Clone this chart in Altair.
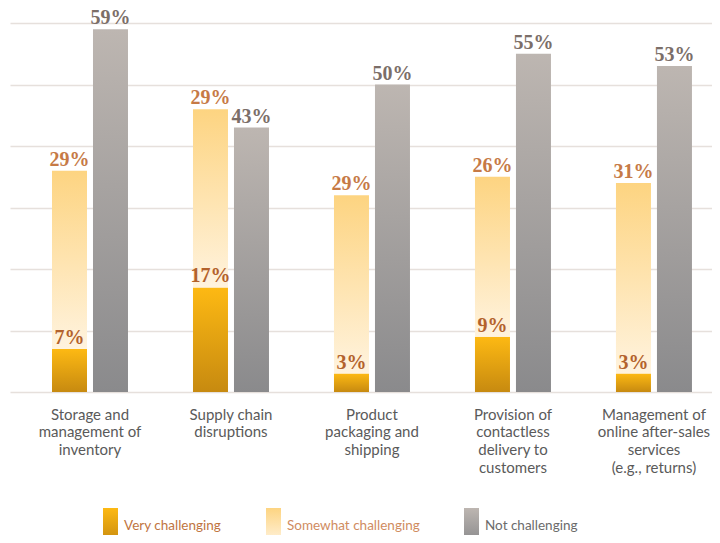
import altair as alt
import pandas as pd

categories = [
    "Storage and|management of|inventory",
    "Supply chain|disruptions",
    "Product|packaging and|shipping",
    "Provision of|contactless|delivery to|customers",
    "Management of|online after-sales|services|(e.g., returns)",
]
series = ["Very challenging", "Somewhat challenging", "Not challenging"]
very = [7, 17, 3, 9, 3]
somewhat = [29, 29, 29, 26, 31]
not_challenging = [59, 43, 50, 55, 53]
grid_values = [0, 10, 20, 30, 40, 50, 60]

rows = []
for i, cat in enumerate(categories):
    rows.append(dict(category=cat, series=series[0], group="challenging",
                     start=0, end=very[i], label=f"{very[i]}%"))
    rows.append(dict(category=cat, series=series[1], group="challenging",
                     start=very[i], end=very[i] + somewhat[i], label=f"{somewhat[i]}%"))
    rows.append(dict(category=cat, series=series[2], group="not",
                     start=0, end=not_challenging[i], label=f"{not_challenging[i]}%"))
df = pd.DataFrame(rows)


def grad(top, bottom):
    return ("{gradient: 'linear', x1: 0, y1: 0, x2: 0, y2: 1, stops: ["
            f"{{offset: 0, color: '{top}'}}, {{offset: 1, color: '{bottom}'}}]}}")


bar_range = [
    {"expr": grad("#fdb913", "#c78a10")},
    {"expr": grad("#fdd481", "#fff3de")},
    {"expr": grad("#bdb6b1", "#8a8a8c")},
]
label_colors = ["#b3622c", "#c67a46", "#7b6e68"]

x_enc = alt.X(
    "category:N",
    sort=categories,
    scale=alt.Scale(paddingInner=0.461, paddingOuter=0.22, align=0.677),
    axis=alt.Axis(
        title=None,
        labelExpr="split(datum.label, '|')",
        labelAngle=0,
        labelFont="Lato",
        labelFontSize=15,
        labelColor="#5a5a5a",
        labelLineHeight=17.7,
        labelPadding=15,
        labelLimit=300,
        ticks=False,
        domain=False,
        grid=False,
    ),
)
xoff_enc = alt.XOffset(
    "group:N", sort=["challenging", "not"],
    scale=alt.Scale(paddingInner=0.146, paddingOuter=0),
)
y_scale = alt.Scale(domain=[0, 61.8], nice=False, zero=True)

bars = alt.Chart(df).mark_bar().encode(
    x=x_enc,
    xOffset=xoff_enc,
    y=alt.Y(
        "start:Q",
        scale=y_scale,
        axis=alt.Axis(
            title=None, values=grid_values, labels=False, ticks=False,
            domain=False, grid=True, gridColor="#e6e0dc", gridWidth=1.5,
        ),
    ),
    y2="end:Q",
    color=alt.Color(
        "series:N",
        scale=alt.Scale(domain=series, range=bar_range),
        legend=alt.Legend(
            title=None,
            orient="none",
            legendX=79,
            legendY=496,
            direction="horizontal",
            symbolType="M-0.2,-1L0.657,-1L0.657,1L-0.2,1Z",
            symbolSize=1225,
            symbolStrokeWidth=0,
            symbolOpacity=1,
            symbolOffset=0,
            labelOffset=0,
            labelFont="Lato",
            labelFontSize=13.5,
            labelLimit=300,
            labelColor={"expr": "datum.label == 'Not challenging' ? '#6b6b6b' : (datum.label == 'Very challenging' ? '#c0743f' : '#d08c5f')"},
            columnPadding=30,
            padding=0,
        ),
    ),
)

labels = alt.Chart(df).mark_text(
    font="Liberation Serif", fontWeight="bold", fontSize=20,
    baseline="alphabetic", dy=-5,
).encode(
    x=x_enc,
    xOffset=xoff_enc,
    y=alt.Y("end:Q", scale=y_scale),
    text="label:N",
    fill=alt.Fill("series:N", scale=alt.Scale(domain=series, range=label_colors), legend=None),
)

chart = alt.layer(bars, labels).properties(
    width=702,
    height=380,
    autosize=alt.AutoSizeParams(type="none"),
    padding={"left": 2, "top": 4, "right": 0, "bottom": 143},
).configure_view(strokeWidth=0)

chart.save("out.html", embed_options={"renderer": "svg", "actions": False})
